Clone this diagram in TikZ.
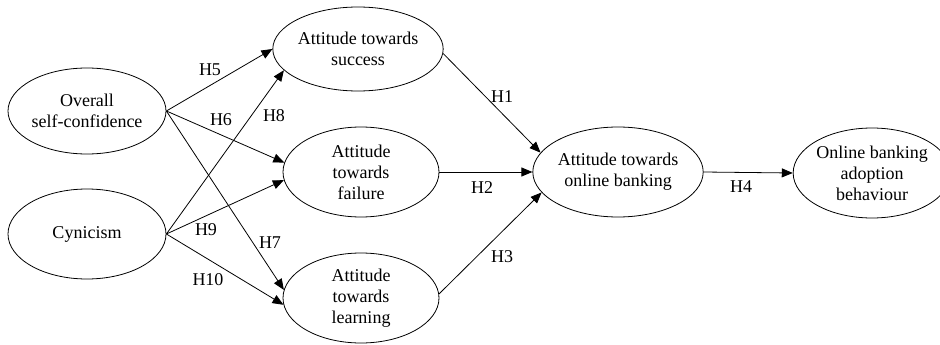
\documentclass[tikz,border=0pt]{standalone}
\usepackage{fontspec}
\setmainfont{Liberation Serif}
\usetikzlibrary{shapes.geometric,arrows.meta}
\begin{document}
\begin{tikzpicture}[x=1pt,y=-1pt,
  ell/.style={draw,ellipse,inner sep=0pt,line width=0.8pt,align=center,font=\fontsize{18}{21}\selectfont},
  arr/.style={line width=0.8pt,-{Triangle[length=11pt,width=9pt]}},
  hlab/.style={font=\fontsize{18}{21}\selectfont,inner sep=0pt}]
\useasboundingbox (0,0) rectangle (940,345);
\node[ell,minimum width=158pt,minimum height=86pt] (o) at (87,111) {Overall\\self-confidence};
\node[ell,minimum width=158pt,minimum height=90pt] (c) at (87,234) {Cynicism};
\node[ell,minimum width=151pt,minimum height=84pt] (s) at (358,49) {Attitude towards\\success};
\node[ell,minimum width=156pt,minimum height=90pt] (f) at (361,172) {Attitude\\towards\\failure};
\node[ell,minimum width=156pt,minimum height=90pt] (l) at (361,298) {Attitude\\towards\\learning};
\node[ell,minimum width=156pt,minimum height=90pt] (a) at (618,172) {Attitude towards\\online banking};
\node[ell,minimum width=152pt,minimum height=90pt] (b) at (872,173) {Online banking\\adoption\\behaviour};
\draw[arr] (o.east) -- (s.180);
\draw[arr] (o.east) -- (f.173);
\draw[arr] (o.east) -- (l.174);
\draw[arr] (c.east) -- (s.196);
\draw[arr] (c.east) -- (f.186);
\draw[arr] (c.east) -- (l.185);
\draw[arr] (s.357) -- (a.166);
\draw[arr] (f.east) -- (a.west);
\draw[arr] (l.3) -- (a.195);
\draw[arr] (a.east) -- (b.west);
\node[hlab] (h5) at (210,70) {H5};
\node[hlab] (h6) at (221,120) {H6};
\node[hlab] (h8) at (274,116) {H8};
\node[hlab] (h9) at (206,230) {H9};
\node[hlab] (h7) at (270,243) {H7};
\node[hlab] (h10) at (208,280) {H10};
\node[hlab] (h1) at (502,97) {H1};
\node[hlab] (h2) at (482,188) {H2};
\node[hlab] (h3) at (502,257) {H3};
\node[hlab] (h4) at (741,187) {H4};
\end{tikzpicture}
\end{document}
